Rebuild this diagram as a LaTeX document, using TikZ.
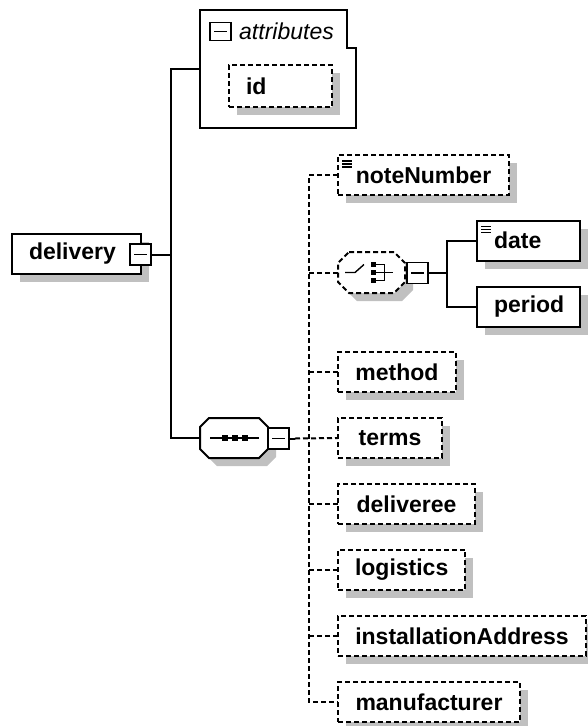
\documentclass[tikz,border=0pt]{standalone}
\usepackage{fontspec}
\setmainfont{Liberation Sans}
\usetikzlibrary{positioning, shadows}
\definecolor{cframe}{HTML}{000000}
\definecolor{cshade}{HTML}{C0C0C0}
% octagon round a named node, #2 = size of the cut corners
\newcommand{\octpath}[2]{([xshift=#2]#1.north west) -- ([xshift=-#2]#1.north east)
  -- ([yshift=-#2]#1.north east) -- ([yshift=#2]#1.south east)
  -- ([xshift=-#2]#1.south east) -- ([xshift=#2]#1.south west)
  -- ([yshift=#2]#1.south west) -- ([yshift=-#2]#1.north west) -- cycle}

\begin{document}
\begin{tikzpicture}[
  x=1pt, y=-1pt,
  font=\fontsize{23}{27}\selectfont\bfseries,
  node distance=26pt,
  shd/.style={drop shadow={shadow xshift=8pt, shadow yshift=-8pt,
              fill=cshade, opacity=1}},
  elem/.style={draw=cframe, fill=white, line width=2pt, shd, outer sep=0pt,
               minimum height=40pt, inner xsep=17pt, inner ysep=0pt,
               anchor=west},
  opt/.style={elem, dash pattern=on 5pt off 3pt},
  short/.style={text width=69pt, align=left},
  grp/.style={inner sep=0pt, outer sep=0pt, minimum width=68pt, minimum height=40pt},
  mbox/.style={draw=cframe, fill=white, line width=1.8pt, inner sep=0pt,
               outer sep=0pt, minimum width=21pt, minimum height=21pt,
               path picture={\draw[line width=1.8pt]
                 ([xshift=4pt]path picture bounding box.west) --
                 ([xshift=-4pt]path picture bounding box.east);}},
  fixed/.style={path picture={\foreach \d in {6,9,12}
                 \draw[solid, line width=1.1pt]
                 ([xshift=4pt,yshift=-\d pt]path picture bounding box.north west) --
                 ([xshift=14pt,yshift=-\d pt]path picture bounding box.north west);}},
  ln/.style={draw=cframe, line width=2pt},
  dln/.style={ln, dash pattern=on 5pt off 3pt},
  icon/.style={line width=1.4pt},
]
\useasboundingbox (0,0) rectangle (587,726);

% root
\node[elem, text width=95pt, align=left] (delivery) at (12,254) {delivery};
\node[mbox] (deliverym) at (140.5,254.5) {};

% attributes
\node[inner sep=0pt, outer sep=0pt, minimum width=156pt, minimum height=118pt,
      anchor=north west] (attrs) at (200,10) {};
\draw[ln] (attrs.north west) -- ++(147,0) -- ++(0,38) -- ++(9,0)
  |- (attrs.south west) -- cycle;
\node[mbox, minimum height=18pt] (attrsm) at (220.5,31.5) {};
\node[font=\fontsize{23}{27}\selectfont\itshape, inner sep=0pt,
      anchor=west] (attrst) at (239,31) {attributes};
\node[opt, short, minimum height=42pt] (id) at (229,86) {id};

% sequence
\node[grp] (seq) at (234,438) {};
\fill[cshade, transform canvas={shift={(8pt,-8pt)}}] \octpath{seq}{9pt};
\draw[ln, fill=white] \octpath{seq}{9pt};
\node[mbox] (seqm) at (278.5,438.5) {};
\draw[icon] ([xshift=-24pt]seq.center) -- ([xshift=25pt]seq.center);
\foreach \dx in {-9,1,11}
  \fill ([xshift=\dx pt]seq.center) +(-2.7,-2.7) rectangle +(2.7,2.7);

% children
\node[opt, fixed, minimum width=171pt] (noteNumber) at (338,175) {noteNumber};
\node[grp, minimum width=67pt, minimum height=41pt] (choice) at (371.5,272.5) {};
\fill[cshade, transform canvas={shift={(8pt,-8pt)}}] \octpath{choice}{11pt};
\draw[dln, fill=white] \octpath{choice}{11pt};
\node[mbox] (choicem) at (417.5,273) {};
\node[elem, fixed, short] (date) at (477,240.5) {date};
\node[elem, short, below=26pt of date.south west, anchor=north west] (period) {period};
\node[opt, minimum width=118pt] (method) at (338,372) {method};
\node[opt, minimum width=104pt, below=of method.south west, anchor=north west] (terms) {terms};
\node[opt, minimum width=137pt, below=of terms.south west, anchor=north west] (deliveree) {deliveree};
\node[opt, minimum width=127pt, below=of deliveree.south west, anchor=north west] (logistics) {logistics};
\node[opt, minimum width=248pt, below=of logistics.south west, anchor=north west] (installationAddress) {installationAddress};
\node[opt, minimum width=182pt, below=of installationAddress.south west, anchor=north west] (manufacturer) {manufacturer};

% choice icon
\draw[icon] ([xshift=-26.5pt]choice.center) -- ([xshift=-16.5pt]choice.center)
  -- ([xshift=-7.5pt,yshift=8pt]choice.center);
\foreach \dy in {-8,0,8}
  \fill ([xshift=2pt,yshift=\dy pt]choice.center) +(-2.5,-2.5) rectangle +(2.5,2.5);
\draw[icon] ([xshift=4pt,yshift=8pt]choice.center) -- ([xshift=13pt,yshift=8pt]choice.center)
  -- ([xshift=13pt,yshift=-8pt]choice.center) -- ([xshift=4pt,yshift=-8pt]choice.center);
\draw[icon] ([xshift=4pt]choice.center) -- ([xshift=21pt]choice.center);

% connectors
\draw[ln] (deliverym.east) -- ++(20,0);
\draw[ln] (attrs.west) -- ++(-29,0) |- (seq.west);
\draw[ln] (seqm.east) -- ++(6,0) coordinate (seqstub);
\draw[dln] (seqstub) -- (terms.west);
\draw[dln] (noteNumber.west) -- ++(-29,0) |- (manufacturer.west);
\foreach \n in {choice, method, deliveree, logistics, installationAddress}
  \draw[dln] (\n.west) -- ++(-29,0);
\draw[ln] (choicem.east) -- ++(19,0);
\draw[ln] (date.west) -- ++(-30,0) |- (period.west);
\end{tikzpicture}
\end{document}
